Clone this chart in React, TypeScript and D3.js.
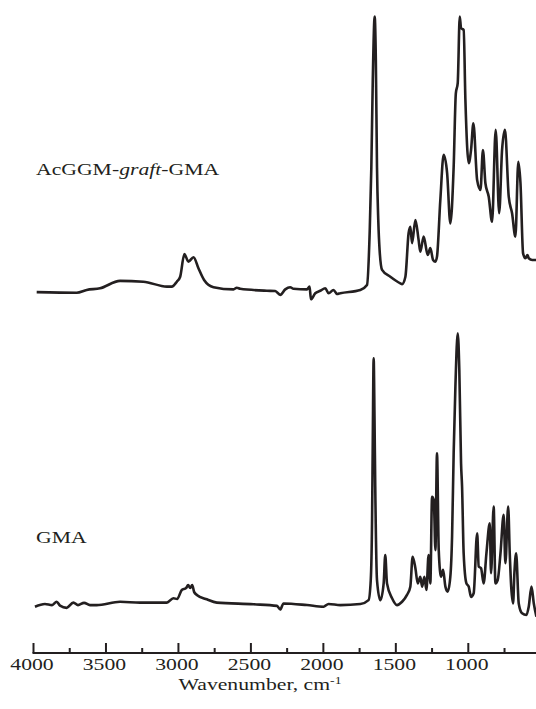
import React from "react";
import * as d3 from "d3";

// Wavenumbers (cm-1) and relative absorbance
const graftWn = [3978,3702,3633,3541,3403,3242,3080,3046,3011,2988,2959,2931,2896,2862,2823,2758,2620,2597,2574,2390,2332,2298,2263,2229,2206,2113,2095,2086,2056,2021,1987,1964,1930,1906,1883,1745,1699,1680,1669,1659,1646,1638,1630,1621,1612,1595,1538,1469,1457,1434,1412,1400,1388,1365,1343,1331,1308,1280,1262,1243,1227,1216,1193,1170,1146,1124,1101,1086,1073,1059,1050,1032,1020,997,981,965,939,916,899,882,859,836,811,787,767,747,721,698,675,655,640,622,606,592,583,559,530];
const graftAbs = [0.003,0.001,0.011,0.017,0.044,0.041,0.023,0.023,0.041,0.059,0.141,0.114,0.130,0.090,0.047,0.021,0.013,0.019,0.015,0.008,0.007,-0.007,0.013,0.021,0.015,0.013,0.023,-0.023,-0.001,0.008,0.017,-0.001,0.011,-0.004,-0.001,0.011,0.029,0.229,0.458,0.775,1.005,0.847,0.458,0.262,0.156,0.084,0.059,0.035,0.032,0.059,0.217,0.241,0.181,0.265,0.193,0.150,0.205,0.138,0.163,0.120,0.114,0.132,0.338,0.502,0.435,0.253,0.459,0.726,0.763,1.005,0.963,0.956,0.702,0.472,0.520,0.617,0.411,0.375,0.520,0.399,0.350,0.259,0.593,0.290,0.520,0.593,0.350,0.290,0.205,0.477,0.399,0.144,0.126,0.138,0.126,0.120,0.120];

const gmaWn = [3990,3921,3872,3840,3817,3771,3725,3693,3651,3610,3564,3403,3265,3080,3035,3009,2977,2947,2933,2919,2905,2892,2873,2804,2735,2482,2320,2298,2275,2113,1999,1964,1883,1745,1688,1673,1664,1659,1653,1647,1642,1630,1607,1584,1573,1561,1526,1492,1457,1423,1400,1384,1365,1349,1331,1319,1303,1289,1274,1262,1250,1238,1227,1216,1204,1188,1174,1158,1142,1124,1112,1101,1089,1073,1062,1050,1043,1032,1013,997,981,963,939,928,912,894,875,852,843,825,813,797,778,756,744,725,714,704,691,682,670,652,629,599,583,564,548,530];
const gmaAbs = [0.001,0.011,0.007,0.019,0.005,-0.003,0.016,0.007,0.015,0.007,0.007,0.019,0.016,0.016,0.032,0.029,0.062,0.069,0.080,0.069,0.080,0.055,0.044,0.028,0.016,0.010,0.004,-0.009,0.013,0.007,0.001,0.011,0.007,0.011,0.025,0.098,0.316,0.607,0.904,0.680,0.437,0.098,0.025,0.086,0.189,0.086,0.032,0.007,0.019,0.044,0.074,0.183,0.141,0.086,0.110,0.074,0.110,0.062,0.189,0.086,0.401,0.389,0.207,0.559,0.207,0.110,0.135,0.074,0.056,0.110,0.256,0.559,0.801,0.995,0.862,0.523,0.437,0.195,0.086,0.074,0.037,0.050,0.268,0.147,0.141,0.086,0.195,0.304,0.123,0.365,0.086,0.098,0.195,0.335,0.159,0.365,0.195,0.074,0.013,0.123,0.195,0.013,-0.023,-0.029,0.001,0.074,0.013,-0.035];

const majorTicks = [4000, 3500, 3000, 2500, 2000, 1500, 1000];
const minorTicks = [3750, 3250, 2750, 2250, 1750, 1250, 750];
const seriesLabels = ["AcGGM-", "graft", "-GMA"];
const gmaLabel = "GMA";
const axisTitle = "Wavenumber, cm";
const axisTitleSup = "-1";
const graftOffset = 1.142;

const W = 536;
const H = 709;
const INK = "#231f20";
const FONT = "'Liberation Serif', 'Times New Roman', serif";
const STRETCH = 1.24;

export default function App() {
  const x = d3.scaleLinear().domain([4000, 1000]).range([33.5, 468.3]);
  const y = d3.scaleLinear().domain([0, 1]).range([607, 332]);
  const axisY = 653;

  const line = d3
    .line<[number, number]>()
    .x((d) => x(d[0]))
    .y((d) => y(d[1]))
    .curve(d3.curveMonotoneX);

  const graftPts: [number, number][] = graftWn
    .map((w, i) => [w, graftAbs[i] + graftOffset] as [number, number])
    .sort((a, b) => b[0] - a[0]);
  const gmaPts: [number, number][] = gmaWn
    .map((w, i) => [w, gmaAbs[i]] as [number, number])
    .sort((a, b) => b[0] - a[0]);

  const graftPath = line(graftPts) || "";
  const gmaPath = line(gmaPts) || "";

  const txt = (px: number, py: number) =>
    `translate(${px},${py}) scale(${STRETCH},1)`;

  return (
    <svg
      width={W}
      height={H}
      style={{ position: "absolute", left: 0, top: 0, background: "#fff" }}
      fontFamily={FONT}
    >
      <rect x={0} y={0} width={W} height={H} fill="#fff" />
      <path d={graftPath} fill="none" stroke={INK} strokeWidth={2.6} strokeLinejoin="round" />
      <path d={gmaPath} fill="none" stroke={INK} strokeWidth={2.6} strokeLinejoin="round" />

      {/* x axis */}
      <line x1={x(4000) - 1} x2={W} y1={axisY} y2={axisY} stroke={INK} strokeWidth={2} />
      {majorTicks.map((t) => (
        <line key={"M" + t} x1={x(t)} x2={x(t)} y1={axisY} y2={axisY - 10} stroke={INK} strokeWidth={2} />
      ))}
      {minorTicks.map((t) => (
        <line key={"m" + t} x1={x(t)} x2={x(t)} y1={axisY} y2={axisY - 5} stroke={INK} strokeWidth={2} />
      ))}
      {majorTicks.map((t) => (
        <text key={"l" + t} transform={txt(x(t) - 1.5, 670)} textAnchor="middle" fontSize={17.5} fill={INK}>
          {t}
        </text>
      ))}
      <text transform={txt(260, 690)} textAnchor="middle" fontSize={17.5} fill={INK}>
        {axisTitle}
        <tspan fontSize={11} dy={-6}>{axisTitleSup}</tspan>
      </text>

      {/* series labels */}
      <text transform={txt(36, 175)} fontSize={17.5} fill={INK}>
        {seriesLabels[0]}
        <tspan fontStyle="italic">{seriesLabels[1]}</tspan>
        {seriesLabels[2]}
      </text>
      <text transform={txt(36, 543)} fontSize={17.5} fill={INK}>
        {gmaLabel}
      </text>
    </svg>
  );
}
